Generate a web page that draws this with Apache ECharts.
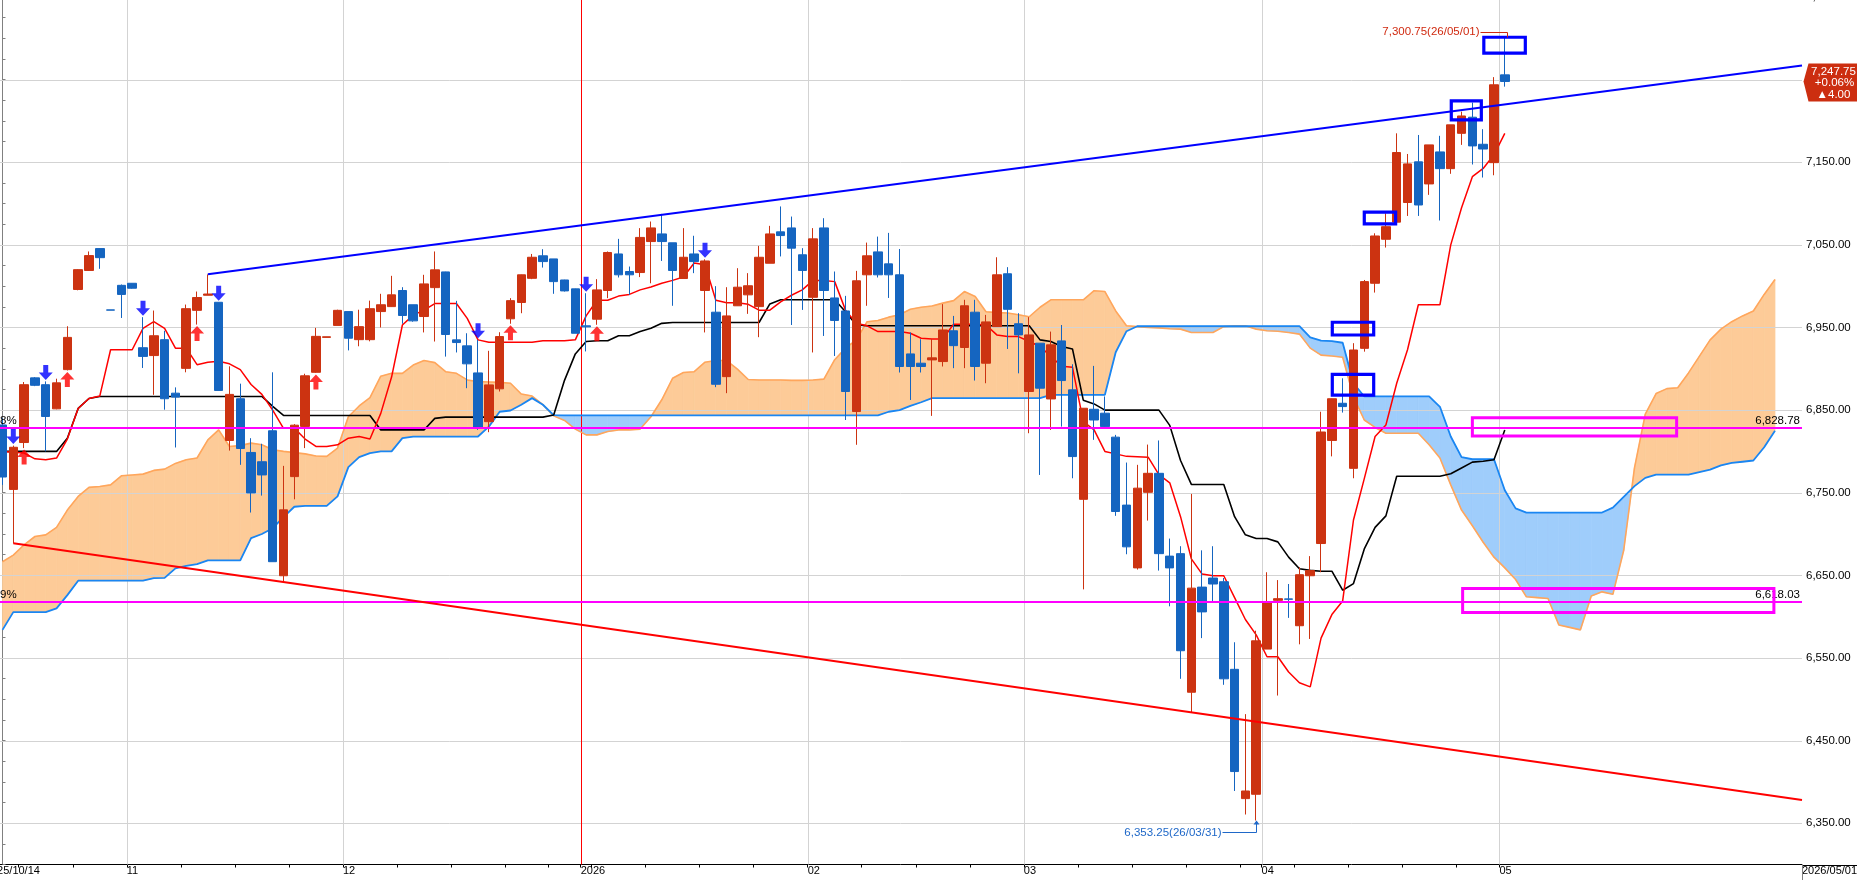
<!DOCTYPE html>
<html><head><meta charset="utf-8">
<script src="https://cdn.jsdelivr.net/npm/echarts@6/dist/echarts.min.js"></script>
<style>html,body{margin:0;padding:0;background:#fff;}#c{width:1857px;height:880px;}</style>
</head><body><div id="c"></div>
<script>
// ---------------- data ----------------
const monthDays = [
 ['25','10',[16,17,20,21,22,23,24,27,28,29,30,31]],
 ['25','11',[3,4,5,6,7,10,11,12,13,14,17,18,19,20,21,24,25,26,27,28]],
 ['25','12',[1,2,3,4,5,8,9,10,11,12,15,16,17,18,19,22,23,24,26,29,30,31]],
 ['26','01',[2,5,6,7,8,9,12,13,14,15,16,19,20,21,22,23,26,27,28,29,30]],
 ['26','02',[2,3,4,5,6,9,10,11,12,13,16,17,18,19,20,23,24,25,26,27]],
 ['26','03',[2,3,4,5,6,9,10,11,12,13,16,17,18,19,20,23,24,25,26,27,30,31]],
 ['26','04',[1,2,3,6,7,8,9,10,13,14,15,16,17,20,21,22,23,24,27,28,29,30]],
 ['26','05',[1]]
];
// [open, close, low, high]
const ohlc = [
[6832,6769,6759.5,6840],[6754,6805,6688.75,6807],[6810.75,6880.75,6804,6884],[6889,6880,6879,6890],[6880.75,6842.25,6800,6884.75],
[6851.5,6883,6851,6888],[6899,6938,6898,6951.5],[6996,7020,6995,7020.5],[7019,7037,7018.5,7042],[7045.5,7034.5,7021,7045.75],
[6971.25,6971,6971,6971.25],[7001,6990,6961.5,7002],[7003.5,6997.5,6997,7003.75],[6925.5,6915,6901,6962.5],[6916,6940,6868.5,6970.5],
[6935.25,6863.75,6850.5,6946],[6870.5,6865.75,6804.75,6877.5],[6900.5,6972.75,6895.75,6977.75],[6970.75,6986.25,6953.5,6993.5],[6989,6990.5,6989,7014.25],
[6980.5,6873.75,6873.75,6980.5],[6813.25,6869,6801,6903],[6863.75,6803.5,6783.75,6882],[6798.75,6749.75,6726,6816],[6787.5,6771.5,6746.5,6809.25],
[6825,6666.5,6666.5,6895.75],[6649.5,6729.25,6642.25,6782.5],[6769.5,6831.75,6742,6833],[6830.25,6891.5,6804,6894],[6895.75,6939.25,6895,6949.5],
[6938,6938.75,6938,6938.75],[6952.5,6970.75,6952.5,6971.5],[6969.25,6937,6922.25,6969.25],[6935.25,6951,6927.25,6971.5],[6935.25,6972.75,6933.25,6982.5],
[6969.25,6977.5,6950,6990.75],[6975.25,6989.5,6975,7012.5],[6994.75,6964.5,6954.5,6998.75],[6977.5,6958,6957,6977.5],[6963.25,7002.75,6944,7013.75],
[6998.25,7019.75,6933,7042],[7017.25,6941.5,6914.75,7017.5],[6935,6931.75,6919.75,6982.25],[6927.75,6906,6876.5,6943],[6895,6828,6826,6935],
[6836,6880.5,6823.25,6921.75],[6875.75,6939,6872.5,6944.25],[6960.5,6982.5,6954.5,6985.5],[6980.25,7013.75,6967.25,7014],[7009.5,7035,7008.5,7039],
[7036.75,7029.75,7022.5,7044.75],[7033,7005.5,6990.75,7033],[7007.5,6994.25,6993.5,7007.75],[6996.75,6943,6943,6997],[6952,6950.75,6921,6991.5],
[6960,6995.5,6953.25,7008.5],[6994.75,7040.75,6985.5,7042],[7039,7013.75,7010.5,7057.25],[7017.75,7013.75,6989.5,7023.75],[7016.5,7059,7011,7070.25],
[7054,7070.5,7003.5,7078.25],[7063.25,7054,7030.5,7087.5],[7052.5,7019,6976.25,7052.5],[7009.25,7035,7009.25,7070.25],[7039,7029.75,7015.75,7061],
[6994.75,7030.5,6944,7032.5],[6968.5,6881.25,6877.75,7000],[6890.5,6964,6870.5,6998.75],[6976.25,6998.75,6976,7021.75],[6989.5,7000.5,6966.5,7015.75],
[6975.25,7035,6938.25,7048.75],[7027.75,7063.25,7027.75,7073],[7065.75,7061.25,7036,7096.5],[7070.5,7046,6953,7084.25],[7038,7019,6971.25,7046],
[6986.5,7057.25,6919.75,7070.25],[7070.5,6994.75,6939.75,7082.25],[6985.75,6958.5,6915.5,7017.75],[6970,6872.5,6838,6988.25],[6848.25,7006.5,6808,7018.5],
[7013.75,7036.75,6976.25,7052.75],[7041.5,7013.75,7010.5,7060],[7027,7013.75,6985.75,7064.5],[7013.75,6902.75,6895.5,7045],[6918,6902.75,6862.25,6944],
[6906.75,6902.75,6895.5,6935.75],[6910.75,6913.25,6843,6935.75],[6908.75,6947,6902.75,6978.25],[6946,6928,6900.75,6964],[6925.75,6976.25,6900.75,6983.5],
[6968.5,6902.75,6885.75,6983.5],[6906.75,6956.75,6882.5,6965.25],[6951,7013.75,6951,7035],[7015,6972,6924,7023],[6954.5,6941,6894.5,6967.25],
[6872.5,6941,6822,6962.5],[6931,6876.5,6771.5,6931],[6863.5,6929,6826,6945],[6933.75,6885.75,6830,6953],[6874.5,6793.75,6767.5,6905.5],
[6742,6852.25,6633,6852.5],[6851,6838,6814,6903.5],[6846.25,6830,6828,6866.5],[6817.25,6727.25,6722,6820],[6735,6684.5,6675.5,6786.5],
[6659,6755.5,6657,6783.75],[6750.5,6773.5,6716.25,6808.25],[6773.5,6676.25,6655.75,6813.25],[6673.25,6659,6612.5,6694.5],[6676.25,6558.75,6524.75,6685.25],
[6508.5,6634.5,6484,6748.5],[6635.75,6605.75,6574,6680.25],[6646.75,6639.5,6617,6685.25],[6642.25,6524.75,6517.5,6646.75],[6536.25,6412.5,6389,6569],
[6379.75,6389,6360.5,6482],[6385,6570.75,6353.25,6583],[6560.75,6617.75,6560.75,6653.75],[6619.75,6621.75,6504.5,6644.25],[6621.5,6621,6598.5,6639.5],
[6589,6650.75,6566.5,6659.75],[6649.5,6655.75,6573,6673.25],[6688.5,6823.5,6653.75,6848],[6813.25,6863.75,6794,6864],[6858.25,6854.25,6847,6888.5],
[6779.5,6922.75,6767.5,6931],[6924.75,7005.5,6920.75,7007.5],[7003.5,7060.75,6992.25,7064],[7056.75,7072,7046.75,7088.25],[7077.5,7161.75,7077.5,7185],
[7101.25,7148,7085,7160],[7150.5,7098.25,7085,7183],[7123.75,7171,7110.5,7171],[7162.5,7142.25,7079.5,7182],[7142.25,7195.25,7136,7195.25],
[7185,7206,7171,7211.25],[7204.5,7169.75,7147.25,7222.25],[7171.75,7166,7131.5,7190],[7149.5,7243.75,7134.25,7253],[7255.75,7247.75,7241.5,7300.75]
];
const tenkan = [6800,6799,6798,6791,6790,6792,6815,6852,6864,6867,
6923,6923,6923,6949,6957,6949,6925,6925,6905,6908,
6909,6906,6899,6881,6869,6850,6828,6828,6815,6806,
6806,6808,6816,6818,6815,6846,6890,6953,6965,6971,
6979,6979,6979,6961,6935,6932,6932,6932,6932,6932,
6934,6934,6934,6935,6964,6983,6983,6988,6990,6995.5,
6999,7003.5,7007,7011,7028,7026,6983,6980,6980,6978,
6971,6971,6981,6989,6995.5,7007,7007,7005.5,6971,6955,
6952,6945,6945,6945,6943,6937,6936,6936,6954,6954,
6954,6953,6941,6939,6939,6933,6927,6915,6903,6902,
6836,6826,6800,6797,6794,6793.5,6793,6772,6762,6721,
6670,6651.5,6649.5,6649.5,6623,6596.5,6578,6551.5,6551.5,6533,
6520,6515,6574,6602.5,6619,6717,6767,6818,6832,6882.5,
6923,6977.5,6977.5,6977.5,7050,7095,7132.5,7142.5,7159,7185];
const kijun = [6800,6800,6800,6800,6800,6800,6816,6852,6864,6866.5,
6866.5,6866.5,6866.5,6866.5,6866.5,6866.5,6866.5,6866.5,6866.5,6866.5,
6866.5,6866.5,6866.5,6866.5,6866.5,6854.5,6843.5,6843.5,6843.5,6843.5,
6843.5,6843.5,6843.5,6843.5,6843.5,6826,6826,6826,6826,6826,
6840,6841.5,6841.5,6841.5,6841.5,6841.5,6841.5,6841.5,6841.5,6841.5,
6841.5,6844,6886,6918,6933,6934,6934,6940,6940,6945,
6949,6955,6956,6956,6956,6956,6956,6956,6956,6956,
6956,6978.5,6983.5,6983.5,6983.5,6983.5,6983.5,6983.5,6969,6953,
6952,6952,6952,6952,6952,6952,6952,6952,6952,6952,
6952,6952,6952,6952,6952,6952,6935,6933,6927,6924,
6862,6857.5,6850,6850,6850,6850,6850,6850,6831.5,6789,
6760,6760,6760,6760,6721,6699,6694.5,6694.5,6690.5,6672,
6658,6656,6655,6655,6632,6640,6682,6708,6722,6770,
6770,6770,6770,6770,6773,6780,6787,6788,6790,6826];
const spanA = [6666.5,6674.5,6687,6697,6699,6708,6729,6745.5,6756.5,6757.5,
6759.5,6770.5,6771.5,6772.5,6777,6778.5,6785.5,6790,6792,6814,
6826,6806,6807,6810,6808,6802,6800,6798.5,6797,6794.5,
6794,6804,6842,6855,6865,6891,6894.5,6894.5,6904.5,6910,
6907.5,6896.5,6894.5,6886.5,6884.5,6884,6883.5,6882.5,6869.5,6867,
6856.5,6843,6837.5,6827,6820,6820,6824,6826,6826,6827,
6842,6862.5,6888.5,6895.5,6896.5,6908,6910,6910,6899.5,6887,
6886.5,6886.5,6886.5,6886,6886,6886.5,6887.5,6911,6925,6935,
6957,6958.5,6962.5,6965.5,6972,6974.5,6976,6979.5,6982.5,6993.5,
6987.5,6969,6968,6967.5,6965.5,6963,6974.5,6983.5,6983.5,6983.5,
6983.5,6994.5,6993.5,6970,6952,6951,6950,6949.5,6948.5,6948,
6944,6944,6944,6951,6952,6952,6948,6946,6945.5,6944,
6942,6925,6916.5,6915.5,6914,6866,6838,6829,6822,6822,
6822,6822,6808,6792,6759.5,6729,6710,6690,6672,6659,
6645,6624,6623,6622,6590,6587,6584,6625,6630,6627,
6680,6780,6845,6870,6876,6877,6895,6915,6935,6948,
6957,6964,6970,6990,7008];
const spanB = [6584,6605.5,6605.5,6605.5,6605.5,6610,6626,6643.5,6643.5,6643.5,
6643.5,6643.5,6643.5,6643.5,6646.5,6647,6658.5,6661.5,6663.5,6668,
6668,6668,6668,6695,6700,6707,6720.5,6733,6734,6734,
6734,6745.5,6781,6793,6798,6800,6800,6816,6818,6818,
6818,6818,6818,6818,6818,6830,6848,6849.5,6856.5,6864.5,
6856.5,6844,6843.5,6843.5,6843.5,6843.5,6843.5,6843.5,6843.5,6843.5,
6843.5,6843.5,6843.5,6843.5,6843.5,6843.5,6843.5,6843.5,6843.5,6843.5,
6843.5,6843.5,6843.5,6843.5,6843.5,6843.5,6843.5,6843.5,6843.5,6843.5,
6843.5,6843.5,6848,6850,6855,6859.5,6864.5,6864.5,6864.5,6864.5,
6864.5,6864.5,6864.5,6864.5,6864.5,6864.5,6864.5,6868.5,6868.5,6868.5,
6868.5,6868.5,6868.5,6920,6945.5,6951.5,6951.5,6951.5,6951.5,6951.5,
6951.5,6951.5,6951.5,6951.5,6951.5,6951.5,6951.5,6951.5,6951.5,6951.5,
6951.5,6938,6934,6933.5,6931.5,6882.5,6866.5,6866.5,6866.5,6866.5,
6866.5,6866.5,6866.5,6854,6818,6793,6790.5,6790.5,6790.5,6753,
6731,6726,6726,6726,6726,6726,6726,6726,6726,6732,
6745,6758,6768,6772,6772,6772,6772,6775,6778,6783,
6786,6787.5,6789,6805,6825];
const downArrows = [1,4,13,20,44,54,65];
const upArrows = [2,6,18,29,47,55];
const trendUp = [[19,7014.4],[166.5,7267]];
const trendDown = [[1,6688.75],[166.5,6378]];
const levelLines = [[6828.78,'6,828.78','8%'],[6618.03,'6,618.03','9%']];
const blueBoxes = [[137.06,7282,140.9,7301.3],[134.05,7201.2,136.83,7224.2],[126.0,7075.3,128.9,7089.5],[123.04,6940.9,126.87,6956.3],[123.04,6868,126.87,6893.3]];
const pinkBoxes = [[136.0,6818.6,154.9,6840.8],[135.1,6605,163.9,6634.2]];
const gridValues = [6350,6450,6550,6650,6750,6850,6950,7050,7150,7250];
const monthLines = [12,32,75,95,117,139];
const yearLine = 54;
const weekTicks = [2,7,12,17,22,27,32,37,42,47,51,54,55,60,65,70,75,80,85,90,95,100,105,110,115,117,120,125,130,135,139];
const tickLabels = [[0,'25/10/14'],[12,'11'],[32,'12'],[54,'2026'],[75,'02'],[95,'03'],[117,'04'],[139,'05'],[167,'2026/05/01']];
const highMark = 139, lowMark = 116;

// ---------------- setup ----------------
const FONT = "'Liberation Sans',Arial,sans-serif";
const FS = 11.5, FSX = 11;
const RED = '#cc3311', BLUE = '#1565c0';
const OR_FILL = '#fdcb98', BL_FILL = '#9fcdfb';

const dates = [];
monthDays.forEach(([y,m,ds]) => ds.forEach(d => dates.push(y+'/'+m+'/'+String(d).padStart(2,'0'))));
const NB = 168;
const xCats = [];
for (let b = 0; b < NB; b++) xCats.push(b < dates.length ? dates[b] : 'f' + b);
const labelMap = {};
tickLabels.forEach(([b,t]) => labelMap[b] = t);
const fmt = v => v.toLocaleString('en-US',{minimumFractionDigits:2,maximumFractionDigits:2});

const cloudData = [];
for (let k = 0; k < spanA.length - 1; k++) cloudData.push([k, spanA[k], spanB[k], spanA[k+1], spanB[k+1]]);

const chart = echarts.init(document.getElementById('c'), null, {renderer:'canvas'});
const poly = (pts, c) => ({type:'polygon', shape:{points:pts}, style:{fill:c, stroke:c, lineWidth:0.8}});

const option = {
  animation:false,
  backgroundColor:'#fff',
  textStyle:{fontFamily:FONT},
  grid:{left:-2.904, right:55, top:-3, bottom:15.5, containLabel:false, outerBoundsMode:'none'},
  xAxis:[
    {type:'value', min:-0.5, max:166.5, show:false, position:'top'},
    {type:'category', position:'bottom', boundaryGap:false, data:xCats,
     axisLine:{show:true, onZero:false, lineStyle:{color:'#000', width:1}},
     axisTick:{show:true, length:3, interval:(i)=>weekTicks.includes(i), lineStyle:{color:'#000'}},
     axisLabel:{show:true, interval:(i)=>labelMap[i]!==undefined, formatter:(v,i)=>labelMap[i]||'',
       align:'left', margin:1, color:'#000', fontSize:FSX, fontFamily:FONT, showMinLabel:true, showMaxLabel:true},
     splitLine:{show:false}}
  ],
  yAxis:{type:'value', position:'right', min:6300, max:7350, interval:25,
    axisLine:{show:true, lineStyle:{color:'#808080'}},
    axisTick:{show:true, length:3, lineStyle:{color:'#808080'}},
    axisLabel:{margin:4, color:'#000', fontSize:FS, fontFamily:FONT, showMaxLabel:true, showMinLabel:true,
      formatter:v => (Math.round(v) % 100 === 50) ? fmt(v) : ''},
    splitLine:{show:false}},
  series:[
    {type:'custom', name:'cloud', z:1, silent:true, xAxisIndex:0, yAxisIndex:0, data:cloudData,
     encode:{x:0, y:[1,2,3,4]},
     renderItem:(params, api) => {
       const k = api.value(0), a0 = api.value(1), b0 = api.value(2), a1 = api.value(3), b1 = api.value(4);
       const A0 = api.coord([k,a0]), B0 = api.coord([k,b0]), A1 = api.coord([k+1,a1]), B1 = api.coord([k+1,b1]);
       const d0 = a0 - b0, d1 = a1 - b1;
       const col = d => d >= 0 ? OR_FILL : BL_FILL;
       if (d0 * d1 >= 0) return poly([A0,A1,B1,B0], (d0 + d1) >= 0 ? OR_FILL : BL_FILL);
       const t = d0 / (d0 - d1);
       const X = [A0[0] + t*(A1[0]-A0[0]), A0[1] + t*(A1[1]-A0[1])];
       return {type:'group', children:[poly([A0,X,B0], col(d0)), poly([X,A1,B1], col(d1))]};
     }},
    {type:'custom', name:'hgrid', z:2, silent:true, xAxisIndex:0, yAxisIndex:0,
     data:gridValues.map(v => [0, v]), encode:{x:0, y:1},
     renderItem:(params, api) => {
       const y = Math.round(api.coord([0, api.value(1)])[1]) + 0.5; const cs = params.coordSys;
       return {type:'line', shape:{x1:cs.x, y1:y, x2:cs.x + cs.width, y2:y}, style:{stroke:'#d3d3d3', lineWidth:1}};
     }},
    {type:'custom', name:'vgrid', z:2, silent:true, xAxisIndex:0, yAxisIndex:0,
     data:monthLines.map(b => [b - 0.5, 0]).concat([[yearLine - 0.5, 1]]), encode:{x:0},
     renderItem:(params, api) => {
       const x = Math.round(api.coord([api.value(0), 7000])[0]) + 0.5; const cs = params.coordSys;
       return {type:'line', shape:{x1:x, y1:cs.y, x2:x, y2:cs.y + cs.height},
         style:{stroke: api.value(1) ? '#ff0000' : '#d3d3d3', lineWidth:1}};
     }},
    {type:'line', name:'spanA', z:2, silent:true, symbol:'none', data:spanA.map((v,k)=>[k,v]),
     lineStyle:{color:'#ffa65c', width:1.6}},
    {type:'line', name:'spanB', z:2, silent:true, symbol:'none', data:spanB.map((v,k)=>[k,v]),
     lineStyle:{color:'#1a86f2', width:1.8}},
    {type:'line', name:'kijun', z:2, silent:true, symbol:'none', data:kijun.map((v,k)=>[k,v]),
     lineStyle:{color:'#000000', width:1.6}},
    {type:'line', name:'tenkan', z:2, silent:true, symbol:'none', data:tenkan.map((v,k)=>[k,v]),
     lineStyle:{color:'#ff0000', width:1.5}},
    {type:'candlestick', name:'price', z:3, silent:true, xAxisIndex:0, yAxisIndex:0, barWidth:9,
     encode:{x:0, y:[1,2,3,4]},
     data:ohlc.map((r,k)=>[k, r[0], r[1], r[2], r[3]]),
     itemStyle:{color:RED, color0:BLUE, borderColor:RED, borderColor0:BLUE, borderWidth:1}},
    {type:'line', name:'trendDown', z:4, silent:true, symbol:'none', data:trendDown,
     lineStyle:{color:'#ff0000', width:2},
     markArea:{z:6, silent:true, itemStyle:{color:'rgba(0,0,0,0)', borderColor:'#ff00ff', borderWidth:3},
       data:pinkBoxes.map(b => [{coord:[b[0], b[1]]}, {coord:[b[2], b[3]]}])}},
    {type:'line', name:'trendUp', z:4, silent:true, symbol:'none', data:trendUp,
     lineStyle:{color:'#0000ff', width:2},
     markLine:{z:4, silent:true, symbol:['none','none'], animation:false,
       lineStyle:{color:'#ff00ff', width:2, type:'solid'},
       data: levelLines.flatMap(([v, endTxt, startTxt]) => [
         {yAxis:v, label:{show:true, position:'insideEndTop', formatter:endTxt, color:'#000', fontSize:FS, fontFamily:FONT, distance:[2,1]}},
         {yAxis:v, label:{show:true, position:'insideStartTop', formatter:startTxt, color:'#000', fontSize:FS, fontFamily:FONT, distance:[3,1]}}
       ])},
     markArea:{z:6, silent:true, itemStyle:{color:'rgba(0,0,0,0)', borderColor:'#0000ff', borderWidth:3.2},
       data:blueBoxes.map(b => [{coord:[b[0], b[1]]}, {coord:[b[2], b[3]]}])}},
    {type:'scatter', name:'sell', z:5, silent:true, symbol:'path://M4.5,0L9.5,0L9.5,7.5L14,7.5L7,15L0,7.5L4.5,7.5Z',
     symbolSize:[14,15], symbolOffset:[0,-9], itemStyle:{color:'#0000ff'},
     data:downArrows.map(k => [k, ohlc[k][3]])},
    {type:'scatter', name:'buy', z:5, silent:true, symbol:'path://M7,0L14,7.5L9.5,7.5L9.5,15L4.5,15L4.5,7.5L0,7.5Z',
     symbolSize:[14,15], symbolOffset:[0,9], itemStyle:{color:'#ff0000'},
     data:upArrows.map(k => [k, ohlc[k][2]])}
  ]
};
chart.setOption(option);

// ---------------- overlay annotations (positions via the chart's scales) ----------------
const gp = (k, v) => chart.convertToPixel({xAxisIndex:0, yAxisIndex:0}, [k, v]);
const W = chart.getWidth(), H = chart.getHeight();
const xr = Math.round(gp(166.5, 7000)[0]) + 0.5;
const yb = Math.round(gp(0, 6300)[1]) + 0.5;
const lastK = ohlc.length - 1;
const lastClose = ohlc[lastK][1], prevClose = ohlc[lastK - 1][1];
const diff = lastClose - prevClose;
const pct = diff / prevClose * 100;
const yT = gp(lastK, lastClose)[1];
const pH = gp(highMark, ohlc[highMark][3]);
const pL = gp(lowMark, ohlc[lowMark][2]);
const hx = Math.round(pH[0]) + 2.5, hy = Math.round(pH[1]) - 5.5;
const lx = Math.round(pL[0]) + 0.5, ly = Math.round(pL[1]) + 11.5;
const txt = (x, y, s, fill, align) => ({type:'text', z:100, x:x, y:y,
  style:{text:s, fill:fill, font:FS + 'px ' + FONT, textAlign:align || 'center', textVerticalAlign:'middle'}});
chart.setOption({graphic:[
  {type:'line', z:100, shape:{x1:xr, y1:yb, x2:W, y2:yb}, style:{stroke:'#000', lineWidth:1}},
  {type:'line', z:100, shape:{x1:xr, y1:yb, x2:xr, y2:H}, style:{stroke:'#808080', lineWidth:1}},
  {type:'polygon', z:100, shape:{points:[[xr+6, yT-18],[xr+1, yT],[xr+6, yT+20],[W, yT+20],[W, yT-18]]}, style:{fill:'#cc2e10'}},
  txt(xr + 31, yT - 10, fmt(lastClose), '#fff'),
  txt(xr + 32, yT + 1.5, (pct >= 0 ? '+' : '') + pct.toFixed(2) + '%', '#fff'),
  txt(xr + 31, yT + 13, (diff >= 0 ? '▲' : '▼') + diff.toFixed(2), '#fff'),
  {type:'polyline', z:100, shape:{points:[[hx - 27, hy],[hx, hy],[hx, hy + 5]]}, style:{stroke:'#d02a10', lineWidth:1, fill:null}},
  txt(hx - 28, hy - 1, fmt(ohlc[highMark][3]) + '(' + dates[highMark] + ')', '#d02a10', 'right'),
  {type:'polygon', z:100, shape:{points:[[lx, pL[1]],[lx - 3, pL[1] + 4],[lx + 3, pL[1] + 4]]}, style:{fill:'#1f68c8'}},
  {type:'polyline', z:100, shape:{points:[[lx, pL[1] + 3],[lx, ly],[lx - 34, ly]]}, style:{stroke:'#1f68c8', lineWidth:1, fill:null}},
  txt(lx - 35, ly, fmt(ohlc[lowMark][2]) + '(' + dates[lowMark] + ')', '#1f68c8', 'right')
]});
</script>
</body></html>
